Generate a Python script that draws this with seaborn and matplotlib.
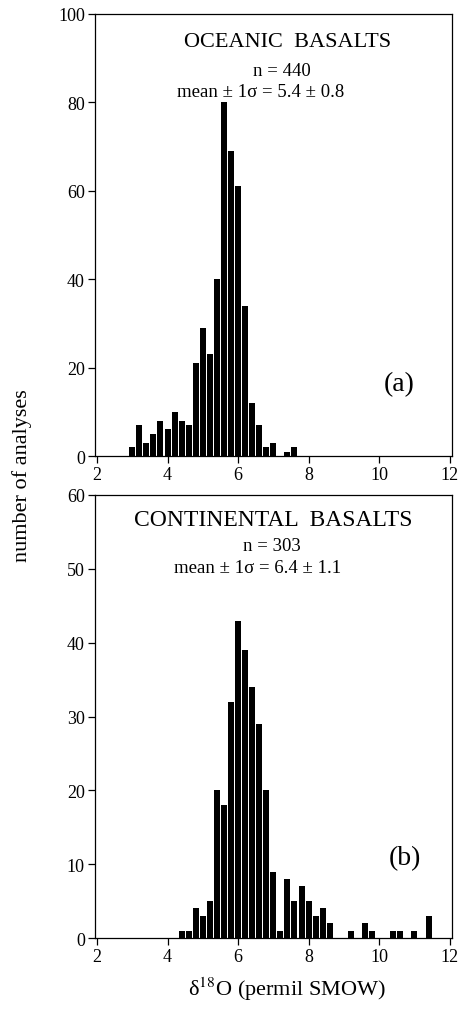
import numpy as np
import pandas as pd
import matplotlib
matplotlib.use("Agg")
import matplotlib.pyplot as plt
import seaborn as sns

# bin centres (permil) and counts
oceanic_d18o = [3.0, 3.2, 3.4, 3.6, 3.8, 4.0, 4.2, 4.4, 4.6, 4.8, 5.0, 5.2,
                5.4, 5.6, 5.8, 6.0, 6.2, 6.4, 6.6, 6.8, 7.0, 7.4, 7.6]
oceanic_n = [2, 7, 3, 5, 8, 6, 10, 8, 7, 21, 29, 23,
             40, 80, 69, 61, 34, 12, 7, 2, 3, 1, 2]

continental_d18o = [4.4, 4.6, 4.8, 5.0, 5.2, 5.4, 5.6, 5.8, 6.0, 6.2, 6.4, 6.6,
                    6.8, 7.0, 7.2, 7.4, 7.6, 7.8, 8.0, 8.2, 8.4, 8.6,
                    9.2, 9.6, 9.8, 10.4, 10.6, 11.0, 11.4]
continental_n = [1, 1, 4, 3, 5, 20, 18, 32, 43, 39, 34, 29,
                 20, 9, 1, 8, 5, 7, 5, 3, 4, 2,
                 1, 2, 1, 1, 1, 1, 3]

oce = pd.DataFrame({"d18o": oceanic_d18o, "n": oceanic_n})
con = pd.DataFrame({"d18o": continental_d18o, "n": continental_n})

sns.set_style("ticks")
plt.rcParams["font.family"] = ["Liberation Serif", "DejaVu Serif"]
plt.rcParams["mathtext.fontset"] = "stix"
plt.rcParams["axes.linewidth"] = 0.9
plt.rcParams["text.color"] = "black"

fig = plt.figure(figsize=(4.61, 10.12), dpi=100)
ax1 = fig.add_axes([0.205, 0.5484, 0.775, 0.4368])
ax2 = fig.add_axes([0.205, 0.0721, 0.775, 0.4378])

for ax, df, ymax, step in [(ax1, oce, 100, 20), (ax2, con, 60, 10)]:
    sns.histplot(data=df, x="d18o", weights="n", binwidth=0.2,
                 binrange=(2.9, 11.5), shrink=0.85,
                 color="black", edgecolor="black", linewidth=0, alpha=1, ax=ax)
    ax.set_xlim(1.93, 12.06)
    ax.set_ylim(0, ymax)
    ax.set_xticks(range(2, 13, 2))
    ax.set_yticks(range(0, ymax + 1, step))
    ax.tick_params(direction="out", length=5, width=0.9, labelsize=13,
                   colors="black", pad=2)
    ax.set_xlabel("")
    ax.set_ylabel("")
    for s in ax.spines.values():
        s.set_visible(True)
        s.set_color("black")

ax1.text(0.541, 0.937, "OCEANIC  BASALTS", transform=ax1.transAxes,
         ha="center", va="center", fontsize=16)
ax1.text(0.524, 0.873, "n = 440", transform=ax1.transAxes,
         ha="center", va="center", fontsize=13.5)
ax1.text(0.464, 0.824, "mean ± 1σ = 5.4 ± 0.8", transform=ax1.transAxes,
         ha="center", va="center", fontsize=13.5)
ax1.text(0.852, 0.163, "(a)", transform=ax1.transAxes,
         ha="center", va="center", fontsize=20)

ax2.text(0.501, 0.944, "CONTINENTAL  BASALTS", transform=ax2.transAxes,
         ha="center", va="center", fontsize=17)
ax2.text(0.497, 0.885, "n = 303", transform=ax2.transAxes,
         ha="center", va="center", fontsize=13.5)
ax2.text(0.455, 0.837, "mean ± 1σ = 6.4 ± 1.1", transform=ax2.transAxes,
         ha="center", va="center", fontsize=13.5)
ax2.text(0.869, 0.181, "(b)", transform=ax2.transAxes,
         ha="center", va="center", fontsize=20)

fig.text(0.048, 0.53, "number of analyses", rotation=90,
         ha="center", va="center", fontsize=16)
fig.text(0.623, 0.022, r"δ$^{18}$O (permil SMOW)",
         ha="center", va="center", fontsize=16)

fig.savefig("out.png", dpi=100)
